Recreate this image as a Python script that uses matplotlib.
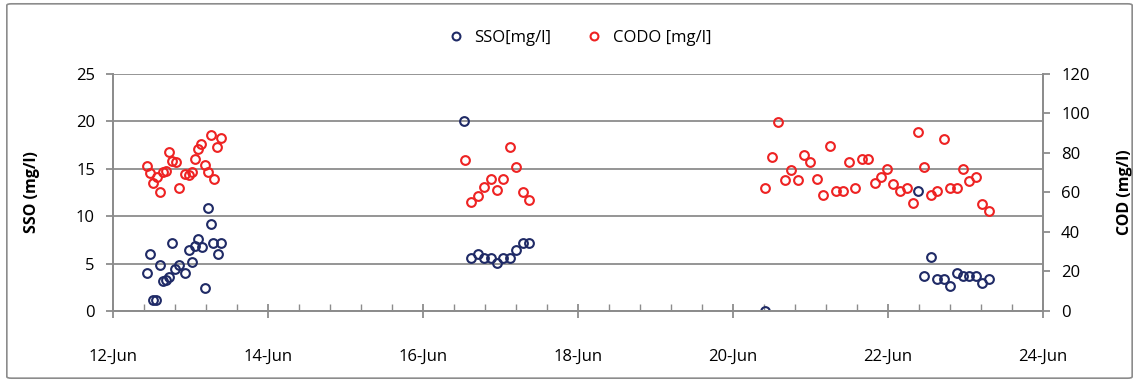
import matplotlib
matplotlib.use("Agg")
import matplotlib.pyplot as plt
from matplotlib.patches import FancyBboxPatch
from matplotlib.ticker import MultipleLocator

# x values are days of June (fractional)
sso_days = [12.435, 12.477, 12.512, 12.555, 12.606, 12.641, 12.684, 12.727, 12.766,
            12.80, 12.856, 12.933, 12.976, 13.015, 13.058, 13.10, 13.144, 13.183,
            13.222, 13.26, 13.295, 13.35, 13.39,
            16.533, 16.619, 16.705, 16.787, 16.873, 16.955, 17.036, 17.123, 17.204,
            17.286, 17.372,
            20.417,
            22.39, 22.469, 22.555, 22.636, 22.718, 22.80, 22.886, 22.968, 23.049,
            23.135, 23.217, 23.30]
sso_vals = [3.97, 5.98, 1.16, 1.16, 4.82, 3.16, 3.27, 3.62, 7.14,
            4.40, 4.82, 3.97, 6.43, 5.20, 6.86, 7.59, 6.79, 2.39,
            10.83, 9.18, 7.14, 5.98, 7.14,
            20.0, 5.59, 6.01, 5.59, 5.59, 5.10, 5.59, 5.59, 6.43,
            7.21, 7.21,
            0.0,
            12.66, 3.69, 5.66, 3.34, 3.34, 2.67, 3.97, 3.69, 3.69,
            3.69, 2.99, 3.34]

cod_days = [12.435, 12.477, 12.52, 12.563, 12.602, 12.649, 12.684, 12.727, 12.761,
            12.813, 12.847, 12.933, 12.985, 13.019, 13.058, 13.10, 13.14, 13.187,
            13.226, 13.265, 13.303, 13.346, 13.39,
            16.542, 16.619, 16.705, 16.787, 16.873, 16.955, 17.036, 17.123, 17.204,
            17.286, 17.372,
            20.417, 20.503, 20.585, 20.667, 20.748, 20.835, 20.916, 20.997, 21.084,
            21.165, 21.248, 21.329, 21.415, 21.497, 21.578, 21.66, 21.746, 21.828,
            21.91, 21.99, 22.07, 22.16, 22.24, 22.327, 22.39, 22.469, 22.555,
            22.636, 22.718, 22.80, 22.886, 22.968, 23.049, 23.135, 23.217, 23.30]
cod_vals = [73.6, 69.7, 65.0, 67.7, 60.1, 70.2, 71.0, 80.3, 75.8,
            75.4, 62.4, 69.4, 68.9, 70.2, 77.0, 81.9, 84.7, 74.1,
            70.5, 89.1, 67.0, 83.2, 87.4,
            76.5, 55.0, 58.1, 62.8, 66.8, 61.1, 66.8, 83.0, 73.1,
            60.1, 56.0,
            62.3, 77.8, 95.7, 66.2, 71.4, 66.5, 79.0, 75.4, 66.8,
            58.9, 83.7, 60.6, 60.6, 75.3, 62.1, 76.8, 76.8, 65.0,
            67.8, 71.7, 64.5, 60.6, 62.4, 54.8, 90.5, 73.1, 58.7,
            60.9, 87.1, 62.3, 62.3, 71.7, 65.7, 67.8, 54.2, 50.8]

x_ticks = [12, 14, 16, 18, 20, 22, 24]
x_labels = [f"{d}-Jun" for d in x_ticks]

BLUE = "#1f2a66"
RED = "#ee2222"
GRID = "#8c8c8c"

plt.rcParams["font.family"] = ["Open Sans", "DejaVu Sans"]

fig = plt.figure(figsize=(11.39, 3.82), dpi=100)
ax = fig.add_axes([0.0992, 0.1859, 0.8165, 0.6204])
ax2 = ax.twinx()

mk = dict(linestyle="none", marker="o", markersize=6.3, markerfacecolor="none",
          markeredgewidth=1.5)
ax.plot(sso_days, sso_vals, markeredgecolor=BLUE, label="SSO[mg/l]", **mk)
ax2.plot(cod_days, cod_vals, markeredgecolor=RED, label="CODO [mg/l]", **mk)

ax.set_xlim(12, 24)
ax.set_ylim(0, 25)
ax2.set_ylim(0, 120)
ax.set_xticks(x_ticks)
ax.set_xticklabels(x_labels)
ax.xaxis.set_minor_locator(MultipleLocator(0.4))
ax.set_yticks([0, 5, 10, 15, 20, 25])
ax2.set_yticks([0, 20, 40, 60, 80, 100, 120])

ax.yaxis.grid(True, color=GRID, linewidth=1.3)
ax.set_axisbelow(True)

for a in (ax, ax2):
    a.spines["top"].set_visible(False)
    for s in ("left", "right", "bottom"):
        a.spines[s].set_color(GRID)
        a.spines[s].set_linewidth(1.3)

ax.tick_params(axis="x", which="major", direction="inout", length=10, width=1.3,
               color=GRID, labelsize=12, pad=22)
ax.tick_params(axis="x", which="minor", direction="in", length=5, width=1, color=GRID)
ax.tick_params(axis="y", direction="out", length=5, width=1.3, color=GRID,
               labelsize=12, pad=8)
ax2.tick_params(axis="y", direction="out", length=5, width=1.3, color=GRID,
                labelsize=12, pad=8)

ax.set_ylabel("SSO (mg/l)", fontsize=11.5, fontweight="bold", labelpad=26)
ax2.set_ylabel("COD (mg/l)", fontsize=11.5, fontweight="bold", rotation=90,
               labelpad=20)

h1, l1 = ax.get_legend_handles_labels()
h2, l2 = ax2.get_legend_handles_labels()
fig.legend(h1 + h2, l1 + l2, loc="center", bbox_to_anchor=(0.505, 0.90), ncol=2,
           frameon=False, fontsize=12, handletextpad=0.1, columnspacing=1.6,
           markerscale=0.9)

border = FancyBboxPatch((0.006, 0.01), 0.988, 0.98, boxstyle="round,pad=0,rounding_size=0.004",
                        transform=fig.transFigure, fill=False, edgecolor="#8c8c8c",
                        linewidth=1.2)
fig.patches.append(border)

fig.savefig("out.png", dpi=100)
plt.close(fig)
